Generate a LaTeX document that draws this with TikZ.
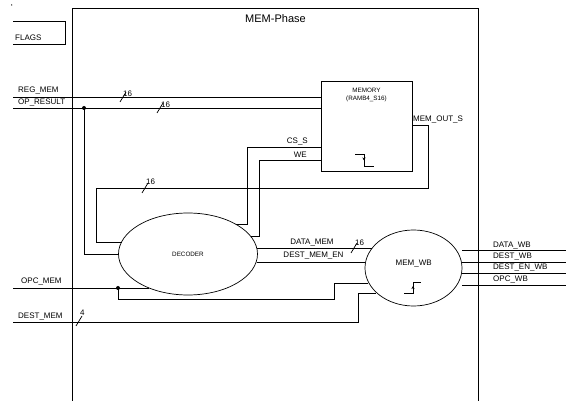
\documentclass[tikz,border=0pt]{standalone}
\usepackage{fontspec}
\setmainfont{Liberation Sans}
\usetikzlibrary{arrows.meta,shapes.geometric}
\begin{document}
\begin{tikzpicture}[x=1pt,y=-1pt,
  wire/.style={line width=0.7pt},
  lbl/.style={inner sep=0pt,font=\fontsize{8}{9.6}\selectfont},
  small/.style={inner sep=0pt,font=\fontsize{6.3}{7.5}\selectfont},
  ttl/.style={inner sep=0pt,font=\fontsize{11}{13}\selectfont},
  blk/.style={draw,line width=0.7pt,inner sep=0pt},
  dot/.style={circle,fill,inner sep=0pt,minimum size=4pt},
  clk/.style={-{Stealth[length=3pt,width=3pt]},line width=0.7pt}]
\useasboundingbox (0,0) rectangle (566,401);
% stray dot
\fill (11.7,5) circle (0.7);
% main frame
\draw[wire] (72,401) -- (72,8) -- (478.5,8) -- (478.5,401);
\node[ttl] (title) at (275.5,19) {MEM-Phase};
% FLAGS
\draw[wire] (13,21) -- (65,21) -- (65,44) -- (13,44);
\node[lbl,anchor=west] (flags) at (15,38) {FLAGS};
% blocks
\node[blk,minimum width=91pt,minimum height=90pt] (mem) at (366.5,126) {};
\node[small] (memt1) at (366.5,90.5) {MEMORY};
\node[small] (memt2) at (366.5,98.5) {(RAMB4\_S16)};
\node[blk,ellipse,minimum width=139pt,minimum height=82pt] (dec) at (188,254) {};
\node[small] (dect) at (188,254) {DECODER};
\node[blk,ellipse,minimum width=97pt,minimum height=76pt] (wb) at (413.5,268) {};
\node[lbl] (wbt) at (413.7,264) {MEM\_WB};
% pin coordinates
\coordinate (regin) at (13,97);
\coordinate (opin) at (13,108);
\coordinate (opcin) at (13,288);
\coordinate (destin) at (13,322);
% input labels
\node[lbl,anchor=west] (lreg) at (18,91) {REG\_MEM};
\node[lbl,anchor=west] (lop) at (18,102.5) {OP\_RESULT};
\node[lbl,anchor=west] (lopc) at (21,282) {OPC\_MEM};
\node[lbl,anchor=west] (ldest) at (18,317) {DEST\_MEM};
% wires
\draw[wire] (regin) -- (mem.west |- regin);
\draw[wire] (opin) -- (mem.west |- opin);
\draw[wire] (84,108) |- (dec.west);
\draw[wire] (mem.east |- 0,125) -- (428,125) -- (428,188) -- (96,188) -- (96,242) -- (dec.169.8 |- 0,242);
\draw[wire] (mem.west |- 0,147) -- (247,147) -- (247,224) -- (dec.32.3 |- 0,224);
\draw[wire] (mem.west |- 0,160) -- (259,160) -- (259,236) -- (dec.16.1 |- 0,236);
\draw[wire] (dec.5 |- 0,248) -- (wb.154.1 |- 0,248);
\draw[wire] (dec.-6.7 |- 0,262) -- (wb.172.9 |- 0,262);
\draw[wire] (opcin) -- (dec.221.2 |- opcin);
\draw[wire] (118,288) -- (118,299) -- (334,299) -- (334,283) -- (wb.198.6 |- 0,283);
\draw[wire] (destin) -- (358,322) -- (358,293) -- (wb.214.4 |- 0,293);
\node[dot] (j1) at (84,108) {};
\node[dot] (j2) at (118,288) {};
% outputs
\coordinate (o1) at (566,250);
\coordinate (o2) at (566,262);
\coordinate (o3) at (566,273);
\coordinate (o4) at (566,285);
\draw[wire] (wb.east |- o1) -- (o1);
\draw[wire] (wb.east |- o2) -- (o2);
\draw[wire] (wb.east |- o3) -- (o3);
\draw[wire] (wb.east |- o4) -- (o4);
\node[lbl,anchor=west] (ldwb) at (493,245.5) {DATA\_WB};
\node[lbl,anchor=west] (ldstwb) at (493,257) {DEST\_WB};
\node[lbl,anchor=west] (lenwb) at (493,268) {DEST\_EN\_WB};
\node[lbl,anchor=west] (lopcwb) at (493,280) {OPC\_WB};
% internal labels
\node[lbl,anchor=west] (lmo) at (413,120) {MEM\_OUT\_S};
\node[lbl,anchor=east] (lcs) at (308,142) {CS\_S};
\node[lbl,anchor=east] (lwe) at (307,155) {WE};
\node[lbl] (ldm) at (312,243) {DATA\_MEM};
\node[lbl] (lden) at (313.5,256) {DEST\_MEM\_EN};
% bus markers
\draw[wire] (120,102) -- (126,92);
\node[lbl,anchor=south west] (b1) at (123,96.5) {16};
\draw[wire] (157,113) -- (163,103);
\node[lbl,anchor=south west] (b2) at (161,107.5) {16};
\draw[wire] (142,193) -- (148,183);
\node[lbl,anchor=south west] (b3) at (146,185) {16};
\draw[wire] (351,253) -- (357,243);
\node[lbl,anchor=south west] (b4) at (355,245.5) {16};
\draw[wire] (76,326) -- (82,316);
\node[lbl,anchor=south west] (b5) at (80,315.5) {4};
% clocks
\draw[wire] (355,154) -- (364,154) -- (364,166) -- (374,166);
\draw[clk] (364,155) -- (364,160.5);
\draw[wire] (404,293) -- (413,293) -- (413,282) -- (421,282);
\draw[clk] (413,292) -- (413,286);
\end{tikzpicture}
\end{document}
